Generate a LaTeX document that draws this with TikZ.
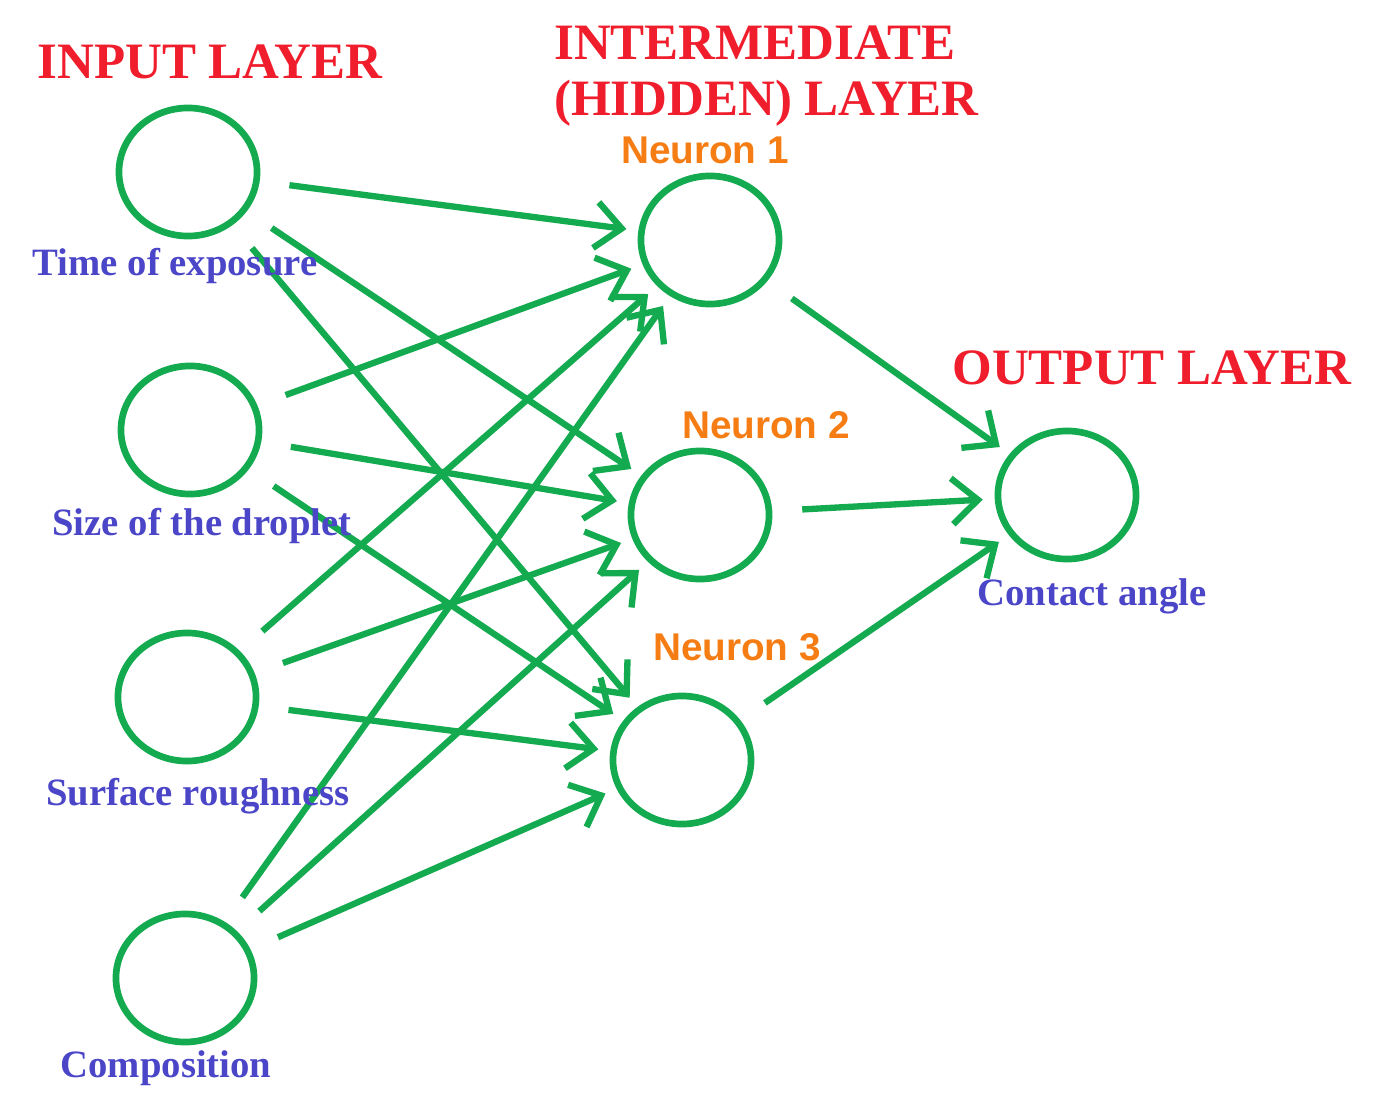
\documentclass[tikz,border=0pt]{standalone}
\usepackage{fontspec}
\setmainfont{Liberation Serif}
\newfontfamily\sansf{Liberation Sans}
\usetikzlibrary{arrows.meta,shapes.geometric}
\definecolor{gr}{RGB}{20,170,80}
\definecolor{rd}{RGB}{240,30,45}
\definecolor{og}{RGB}{245,125,20}
\definecolor{bl}{RGB}{75,70,200}
\begin{document}
\begin{tikzpicture}[x=0.01cm,y=-0.01cm,
 neu/.style={draw=gr,line width=1.9pt,ellipse,minimum width=1.38cm,minimum height=1.28cm,inner sep=0pt},
 con/.style={draw=gr,line width=1.8pt,-{Straight Barb[length=2.6mm,width=4.6mm,line width=1.8pt]},shorten <=0.3cm,shorten >=0.12cm},
 ttl/.style={text=rd,font=\bfseries\fontsize{14.5}{16}\selectfont,align=left,inner sep=1pt},
 lab/.style={text=bl,font=\bfseries\fontsize{11}{13}\selectfont},
 nl/.style={text=og,font=\sansf\bfseries\fontsize{11}{13}\selectfont,inner sep=1pt}]
\useasboundingbox (0,0) rectangle (1381,1118);
\node[neu] (i1) at (188,172) {};
\node[neu] (i2) at (190,430) {};
\node[neu] (i3) at (187,697) {};
\node[neu] (i4) at (185,978) {};
\node[neu] (h1) at (710,240) {};
\node[neu] (h2) at (700,515) {};
\node[neu] (h3) at (682,760) {};
\node[neu] (o) at (1067,495) {};
\foreach \i in {i1,i2,i3,i4}{\foreach \h in {h1,h2,h3}{\draw[con] (\i) -- (\h);}}
\foreach \h in {h1,h2,h3}{\draw[con] (\h) -- (o);}
\node[ttl] (t1) at (210,62) {INPUT LAYER};
\node[ttl,anchor=west] (t2) at (550,76) {INTERMEDIATE\\(HIDDEN) LAYER};
\node[ttl] (t3) at (1152,368) {OUTPUT LAYER};
\node[nl] (n1) at (705,150) {Neuron 1};
\node[nl] (n2) at (766,425) {Neuron 2};
\node[nl] (n3) at (737,647) {Neuron 3};
\node[lab] (l1) at (175,266) {Time of exposure};
\node[lab] (l2) at (202,526) {Size of the droplet};
\node[lab] (l3) at (198,796) {Surface roughness};
\node[lab] (l4) at (166,1068) {Composition};
\node[lab] (l5) at (1092,596) {Contact angle};
\end{tikzpicture}
\end{document}
